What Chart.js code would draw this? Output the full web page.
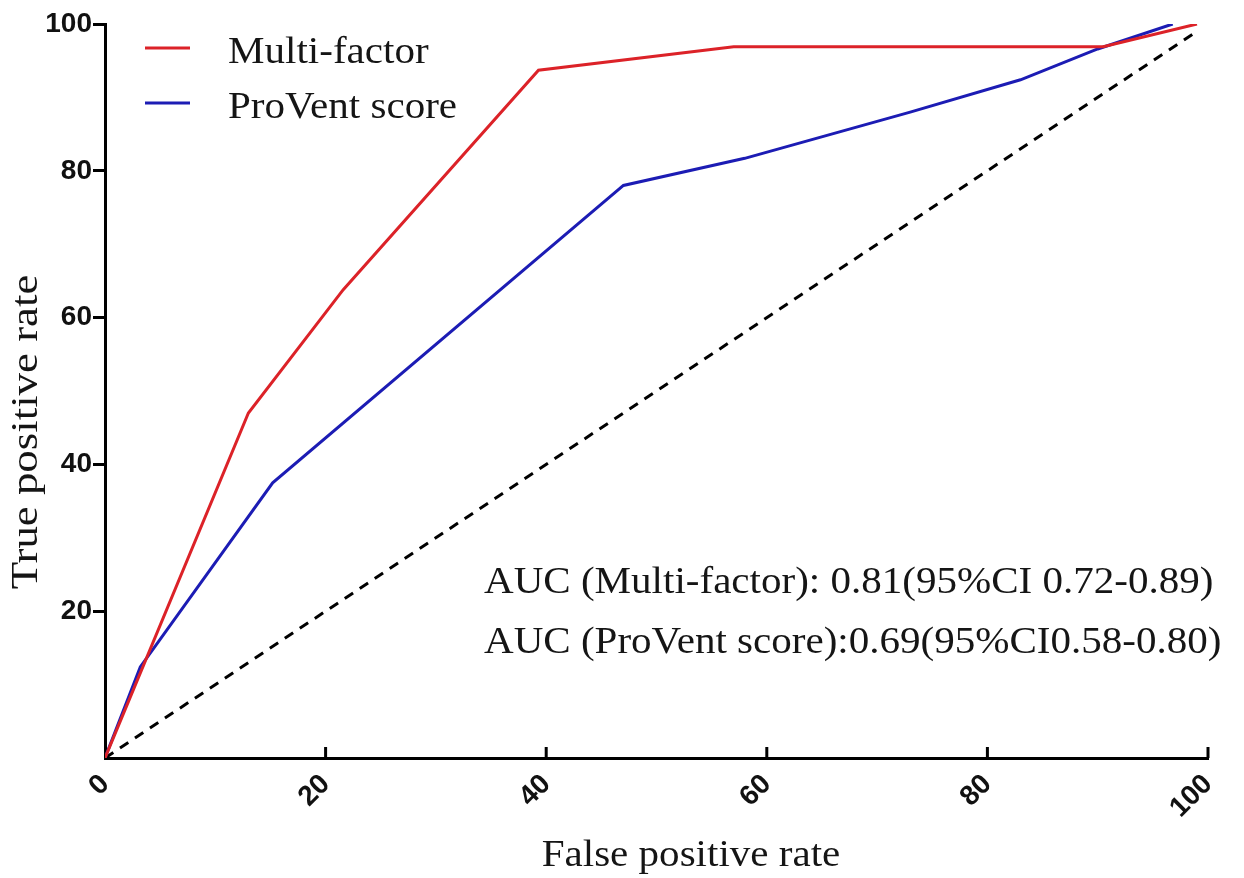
<!DOCTYPE html>
<html>
<head>
<meta charset="utf-8">
<title>ROC curves</title>
<script src="https://cdn.jsdelivr.net/npm/chart.js@4/dist/chart.umd.min.js"></script>
<style>
    body { margin: 0; background: #fff; }
    #wrap { width: 1244px; height: 878px; }
</style>
</head>
<body>
<div id="wrap"><canvas id="rocChart" width="1244" height="878"></canvas></div>
<script>
// values (percent)
const multiFpr = [0, 13, 21.6, 39.3, 57, 90.5, 99];
const multiTpr = [0, 47, 63.8, 93.7, 96.9, 96.9, 100];

const proventFpr = [0, 3.2, 15.2, 47, 58, 73, 83, 90, 96.8];
const proventTpr = [0, 12.4, 37.5, 78, 81.7, 88, 92.4, 96.6, 100];

const chanceFpr = [0, 99];
const chanceTpr = [0, 99];

const xTicks = [0, 20, 40, 60, 80, 100];
const yTicks = [20, 40, 60, 80, 100];

const seriesNames = ["Multi-factor", "ProVent score"];
const aucLines = [
    "AUC (Multi-factor): 0.81(95%CI 0.72-0.89)",
    "AUC (ProVent score):0.69(95%CI0.58-0.80)"
];

const RED = "#dc2228";
const BLUE = "#1c1cb4";
const SERIF = "'Liberation Serif', 'Times New Roman', serif";
const TICK_FONT = { family: "'Liberation Sans', Arial, sans-serif", size: 28, weight: "bold" };

function toPoints(xs, ys) {
    return xs.map((x, i) => ({ x: x, y: ys[i] }));
}

// serif text in the reference is a little wider than Liberation Serif
function wideText(ctx, text, x, y, angle, stretch) {
    ctx.save();
    ctx.translate(x, y);
    if (angle) ctx.rotate(angle);
    ctx.scale(stretch || 1.08, 1);
    ctx.fillText(text, 0, 0);
    ctx.restore();
}

const extras = {
    id: "extras",
    afterDraw(chart) {
        const ctx = chart.ctx;
        const xs = chart.scales.x;
        const area = chart.chartArea;

        // x ticks point inwards
        ctx.save();
        ctx.strokeStyle = "#000";
        ctx.lineWidth = 3;
        xTicks.forEach(v => {
            if (v === 0) return;
            const px = xs.getPixelForValue(v);
            ctx.beginPath();
            ctx.moveTo(px, area.bottom);
            ctx.lineTo(px, area.bottom - 11);
            ctx.stroke();
        });
        ctx.restore();

        ctx.save();
        ctx.fillStyle = "#151515";
        ctx.font = "38px " + SERIF;
        ctx.textBaseline = "alphabetic";

        // legend
        const cols = [RED, BLUE];
        seriesNames.forEach((name, i) => {
            const ly = 48 + i * 55;
            ctx.strokeStyle = cols[i];
            ctx.lineWidth = 3;
            ctx.beginPath();
            ctx.moveTo(145, ly);
            ctx.lineTo(190, ly);
            ctx.stroke();
            ctx.textAlign = "left";
            wideText(ctx, name, 228, ly + 15);
        });

        // AUC notes
        aucLines.forEach((t, i) => {
            wideText(ctx, t, 484, 593 + i * 60);
        });

        // axis titles
        ctx.textAlign = "center";
        wideText(ctx, "False positive rate", 691, 866);
        ctx.textBaseline = "middle";
        wideText(ctx, "True positive rate", 27, 432, -Math.PI / 2, 1.18);
        ctx.restore();
    }
};

document.addEventListener("DOMContentLoaded", () => {
    const ctx = document.getElementById("rocChart").getContext("2d");

    new Chart(ctx, {
        type: "scatter",
        data: {
            datasets: [
                {
                    label: seriesNames[0],
                    data: toPoints(multiFpr, multiTpr),
                    borderColor: RED,
                    borderWidth: 3,
                    showLine: true,
                    pointRadius: 0,
                    tension: 0
                },
                {
                    label: seriesNames[1],
                    data: toPoints(proventFpr, proventTpr),
                    borderColor: BLUE,
                    borderWidth: 3,
                    showLine: true,
                    pointRadius: 0,
                    tension: 0
                },
                {
                    label: "Reference",
                    data: toPoints(chanceFpr, chanceTpr),
                    borderColor: "#000",
                    borderWidth: 3,
                    borderDash: [10, 8],
                    showLine: true,
                    pointRadius: 0
                }
            ]
        },
        options: {
            responsive: false,
            animation: false,
            layout: { padding: { left: 0, right: 36, top: 24, bottom: 0 } },
            plugins: {
                legend: { display: false },
                tooltip: { enabled: false }
            },
            scales: {
                x: {
                    type: "linear",
                    min: 0,
                    max: 100,
                    afterFit: scale => { scale.height = 120; },
                    afterBuildTicks: scale => {
                        scale.ticks = xTicks.map(v => ({ value: v }));
                    },
                    border: { display: true, color: "#000", width: 3 },
                    grid: { drawOnChartArea: false, drawTicks: false },
                    ticks: {
                        color: "#111",
                        font: TICK_FONT,
                        minRotation: 45,
                        maxRotation: 45,
                        padding: 10
                    }
                },
                y: {
                    min: 0,
                    max: 100,
                    afterFit: scale => { scale.width = 105; },
                    afterBuildTicks: scale => {
                        scale.ticks = [0].concat(yTicks).map(v => ({ value: v }));
                    },
                    border: { display: true, color: "#000", width: 3 },
                    grid: {
                        drawOnChartArea: false,
                        drawTicks: true,
                        tickLength: 12,
                        lineWidth: 3,
                        color: c => (c.tick && c.tick.value === 0 ? "rgba(0,0,0,0)" : "#000")
                    },
                    ticks: {
                        color: "#111",
                        font: TICK_FONT,
                        padding: 1,
                        callback: v => (v === 0 ? "" : v)
                    }
                }
            }
        },
        plugins: [extras]
    });
});
</script>
</body>
</html>
